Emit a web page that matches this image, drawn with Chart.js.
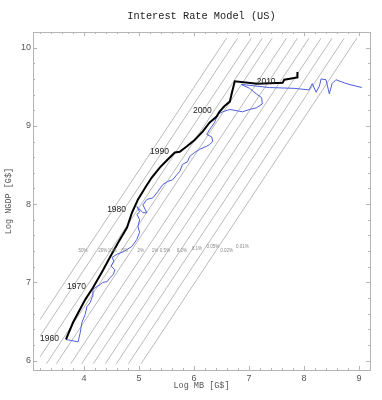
<!DOCTYPE html>
<html><head><meta charset="utf-8">
<script src="https://cdn.jsdelivr.net/npm/chart.js@4/dist/chart.umd.min.js"></script>
<style>html,body{margin:0;padding:0;background:#fff}</style>
</head><body>
<canvas id="c" width="382" height="400" style="width:382px;height:400px;display:block"></canvas>
<script>
const chartTitle = 'Interest Rate Model (US)';
const xTitle = 'Log MB [G$]';
const yTitle = 'Log NGDP [G$]';
const xTicks = [4, 5, 6, 7, 8, 9];
const yTicks = [6, 7, 8, 9, 10];

// black: data path (log MB, log NGDP)
const dataX = [3.67,3.80,4.02,4.16,4.33,4.47,4.62,4.78,4.87,4.98,5.11,5.23,5.38,5.52,5.65,5.74,5.87,6.01,6.16,6.28,6.41,6.46,6.55,6.65,6.68,6.74,7.15,7.61,7.64,7.88,7.88];
const dataY = [6.27,6.49,6.78,6.93,7.14,7.32,7.51,7.70,7.89,8.06,8.21,8.34,8.47,8.57,8.66,8.67,8.74,8.82,8.93,9.04,9.12,9.18,9.25,9.31,9.40,9.57,9.54,9.55,9.59,9.62,9.69];

// blue: model path
const modelX = [3.67,3.89,3.93,3.96,4.02,4.05,4.11,4.15,4.16,4.24,4.29,4.34,4.42,4.47,4.53,4.56,4.49,4.54,4.51,4.60,4.71,4.78,4.87,4.96,5.01,4.98,5.01,4.96,5.01,4.96,5.07,5.14,5.07,5.14,5.25,5.34,5.43,5.52,5.61,5.69,5.74,5.79,5.88,5.92,6.01,6.10,6.23,6.28,6.34,6.32,6.23,6.28,6.37,6.41,6.46,6.52,6.65,6.88,7.01,7.13,7.24,7.23,7.13,7.01,6.92,6.86,7.37,7.82,8.09,8.15,8.22,8.28,8.31,8.40,8.46,8.51,8.58,8.73,8.82,9.05];
const modelY = [6.27,6.24,6.36,6.49,6.59,6.69,6.74,6.82,6.91,6.95,6.97,7.00,7.01,7.06,7.10,7.16,7.21,7.27,7.32,7.36,7.39,7.42,7.46,7.55,7.64,7.71,7.80,7.87,7.90,7.97,7.89,7.89,7.99,8.06,8.08,8.16,8.25,8.29,8.31,8.38,8.42,8.51,8.54,8.61,8.66,8.70,8.74,8.76,8.80,8.86,8.89,8.95,9.04,9.11,9.16,9.18,9.21,9.18,9.21,9.23,9.28,9.36,9.41,9.48,9.51,9.53,9.49,9.48,9.46,9.54,9.43,9.51,9.60,9.59,9.41,9.54,9.59,9.55,9.53,9.49];

// decade labels on the black path
const yearLabels = ['1960','1970','1980','1990','2000','2010'];
const yearX = [3.67,4.16,4.89,5.67,6.45,7.61];
const yearY = [6.27,6.93,7.92,8.66,9.18,9.55];

// constant interest-rate lines: x where each meets the top end, shared slope, y span
const rateLineTopX = [6.59,6.79,7.04,7.24,7.42,7.68,7.88,8.09,8.31,8.51,8.73,8.96];
const rateLineSlope = 1.06;
const rateLineYTop = 10.12;
const rateLineYBottom = 5.96;
const rateLineXMin = 3.2;

const rateLabels = ['50%','20%','10%','5%','2%','1%','0.5%','0.2%','0.1%','0.05%','0.02%','0.01%'];
const rateLabelX = [3.98,4.34,4.51,4.74,5.03,5.29,5.47,5.78,6.05,6.34,6.59,6.88];
const rateLabelY = [7.41,7.41,7.41,7.41,7.41,7.41,7.41,7.41,7.43,7.46,7.41,7.45];

const pts = (xs, ys) => xs.map((x, i) => ({x, y: ys[i]}));

const rateSets = rateLineTopX.map(xt => {
  let xb = xt - (rateLineYTop - rateLineYBottom) / rateLineSlope;
  let yb = rateLineYBottom;
  if (xb < rateLineXMin) { xb = rateLineXMin; yb = rateLineYTop + rateLineSlope * (rateLineXMin - xt); }
  return {data: [{x: xb, y: yb}, {x: xt, y: rateLineYTop}], showLine: true, borderColor: '#a8a8a8',
          borderWidth: 0.8, pointRadius: 0, fill: false};
});

const SANS = "'Liberation Sans', Arial, sans-serif";
const MONO = "'Liberation Mono', 'DejaVu Sans Mono', monospace";

const decor = {
  id: 'decor',
  beforeDatasetsDraw(chart) {
    const {ctx, chartArea: a, scales: {x, y}} = chart;
    ctx.save();
    ctx.strokeStyle = '#b4b4b4';
    ctx.lineWidth = 1;
    ctx.strokeRect(Math.round(a.left) + 0.5, Math.round(a.top) + 0.5, Math.round(a.right - a.left), Math.round(a.bottom - a.top));
    ctx.beginPath();
    for (let v = 3.2; v <= 9.2001; v += 0.2) {
      const p = Math.round(x.getPixelForValue(v)) + 0.5;
      const major = Math.abs(v - Math.round(v)) < 1e-6;
      const L = major ? 4 : 2;
      ctx.moveTo(p, a.bottom); ctx.lineTo(p, a.bottom - L);
      ctx.moveTo(p, a.top); ctx.lineTo(p, a.top + L);
    }
    for (let v = 6.0; v <= 10.2001; v += 0.2) {
      const p = Math.round(y.getPixelForValue(v)) + 0.5;
      const major = Math.abs(v - Math.round(v)) < 1e-6;
      const L = major ? 4 : 2;
      ctx.moveTo(a.left, p); ctx.lineTo(a.left + L, p);
      ctx.moveTo(a.right, p); ctx.lineTo(a.right - L, p);
    }
    ctx.stroke();
    ctx.restore();
  },
  afterDatasetsDraw(chart) {
    const {ctx, chartArea: a, scales: {x, y}} = chart;
    ctx.save();
    ctx.fillStyle = '#888';
    ctx.font = '4.5px ' + SANS;
    ctx.textAlign = 'center';
    ctx.textBaseline = 'middle';
    rateLabels.forEach((t, i) => ctx.fillText(t, x.getPixelForValue(rateLabelX[i]), y.getPixelForValue(rateLabelY[i])));
    ctx.fillStyle = '#222';
    ctx.font = '8.5px ' + SANS;
    ctx.textAlign = 'right';
    yearLabels.forEach((t, i) => ctx.fillText(t, x.getPixelForValue(yearX[i]) - 7, y.getPixelForValue(yearY[i]) - 1));
    const cx = (a.left + a.right) / 2;
    ctx.textAlign = 'center';
    ctx.fillStyle = '#222';
    ctx.font = '10.3px ' + MONO;
    ctx.fillText(chartTitle, cx, 16);
    ctx.fillStyle = '#555';
    ctx.font = '8.5px ' + MONO;
    ctx.fillText(xTitle, cx, 386);
    ctx.translate(9, (a.top + a.bottom) / 2);
    ctx.rotate(-Math.PI / 2);
    ctx.fillText(yTitle, 0, 0);
    ctx.restore();
  }
};

new Chart(document.getElementById('c'), {
  type: 'scatter',
  data: {datasets: [
    {data: pts(dataX, dataY), showLine: true, borderColor: '#000', borderWidth: 2, pointRadius: 0, fill: false},
    {data: pts(modelX, modelY), showLine: true, borderColor: '#4f5ed8', borderWidth: 1, pointRadius: 0, fill: false},
    ...rateSets
  ]},
  options: {
    responsive: false, animation: false, devicePixelRatio: 1,
    layout: {padding: {top: 32, right: 12, left: 0, bottom: 0}},
    plugins: {legend: {display: false}, tooltip: {enabled: false}, title: {display: false}},
    scales: {
      x: {type: 'linear', min: 3.07, max: 9.2,
          afterBuildTicks: s => { s.ticks = xTicks.map(v => ({value: v})); },
          afterFit: s => { s.height = 30; },
          grid: {display: false, drawTicks: false}, border: {display: false},
          ticks: {color: '#555', font: {size: 9, family: SANS}, padding: 3, maxRotation: 0}},
      y: {type: 'linear', min: 5.88, max: 10.2,
          afterBuildTicks: s => { s.ticks = yTicks.map(v => ({value: v})); },
          afterFit: s => { s.width = 33; },
          grid: {display: false, drawTicks: false}, border: {display: false},
          ticks: {color: '#555', font: {size: 9, family: SANS}, padding: 2}}
    }
  },
  plugins: [decor]
});
</script>
</body></html>
